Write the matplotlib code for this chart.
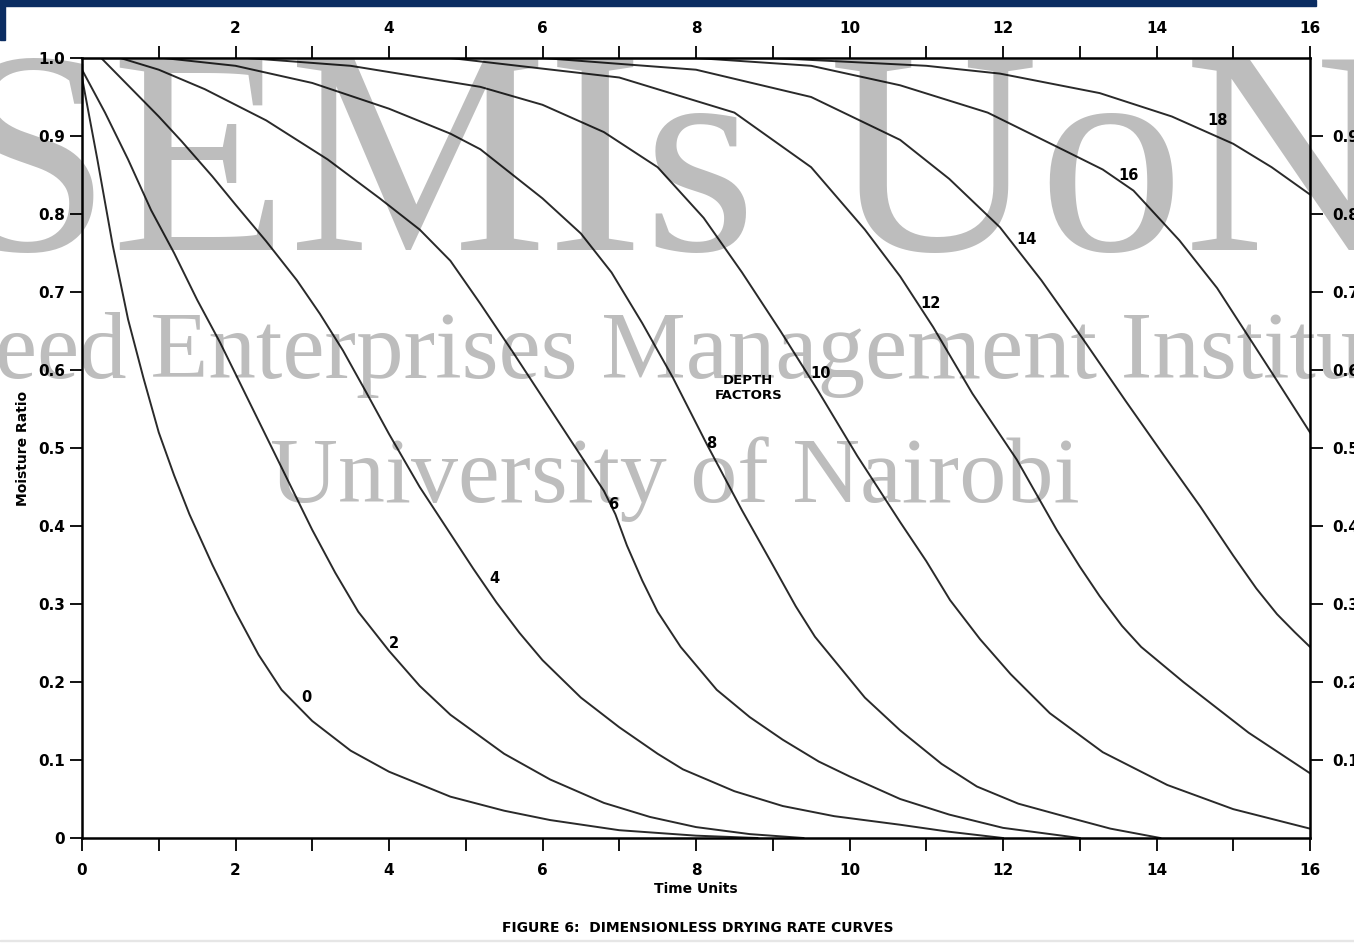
import matplotlib.pyplot as plt
from matplotlib.patches import Rectangle

plt.rcParams['font.family'] = ['DejaVu Sans']
plt.rcParams['font.weight'] = 'bold'
plt.rcParams['axes.labelweight'] = 'bold'

# moisture ratio vs time units for each depth factor
t_0 = [0, 0.2, 0.4, 0.6, 0.8, 1.0, 1.2, 1.4, 1.7, 2.0, 2.3, 2.6, 3.0, 3.5, 4.0, 4.8, 5.5, 6.1, 7.0, 8.0, 8.8]
mr_0 = [0.975, 0.87, 0.76, 0.665, 0.59, 0.52, 0.465, 0.415, 0.35, 0.29, 0.235, 0.19, 0.15, 0.112, 0.085,
        0.053, 0.035, 0.023, 0.01, 0.003, 0.0]

t_2 = [0, 0.3, 0.6, 0.9, 1.2, 1.5, 1.8, 2.1, 2.4, 2.7, 3.0, 3.3, 3.6, 4.0, 4.4, 4.8, 5.5, 6.1, 6.8, 7.4,
       8.0, 8.7, 9.4]
mr_2 = [0.985, 0.93, 0.87, 0.805, 0.75, 0.69, 0.635, 0.575, 0.515, 0.455, 0.395, 0.34, 0.29, 0.24, 0.195,
        0.158, 0.108, 0.075, 0.045, 0.027, 0.014, 0.005, 0.0]

t_4 = [0.25, 0.6, 1.0, 1.3, 1.7, 2.0, 2.4, 2.8, 3.1, 3.4, 3.7, 4.0, 4.4, 4.8, 5.1, 5.4, 5.7, 6.0, 6.5,
       7.0, 7.5, 7.83, 8.5, 9.13, 9.8, 10.66, 11.3, 12.0]
mr_4 = [1.0, 0.965, 0.925, 0.893, 0.848, 0.812, 0.765, 0.715, 0.672, 0.625, 0.572, 0.518, 0.45, 0.39,
        0.345, 0.302, 0.263, 0.228, 0.18, 0.142, 0.108, 0.088, 0.06, 0.041, 0.028, 0.017, 0.008, 0.0]

t_6 = [0.5, 1.0, 1.6, 2.4, 3.2, 3.88, 4.4, 4.8, 5.19, 5.6, 6.0, 6.4, 6.8, 6.95, 7.1, 7.3, 7.5, 7.8, 8.27,
       8.7, 9.13, 9.6, 10.0, 10.66, 11.3, 12.0, 13.0]
mr_6 = [1.0, 0.985, 0.96, 0.92, 0.87, 0.82, 0.78, 0.74, 0.685, 0.625, 0.565, 0.505, 0.445, 0.415, 0.375,
        0.33, 0.29, 0.245, 0.19, 0.155, 0.126, 0.098, 0.079, 0.05, 0.03, 0.013, 0.0]

t_8 = [1.06, 2.0, 3.0, 4.0, 4.8, 5.19, 6.0, 6.5, 6.9, 7.3, 7.7, 8.14, 8.6, 9.0, 9.3, 9.55, 9.8, 10.2,
       10.66, 11.2, 11.66, 12.2, 12.83, 13.4, 14.05]
mr_8 = [1.0, 0.99, 0.968, 0.935, 0.903, 0.883, 0.82, 0.775, 0.725, 0.66, 0.59, 0.505, 0.42, 0.35, 0.297,
        0.258, 0.228, 0.18, 0.138, 0.095, 0.066, 0.044, 0.027, 0.012, 0.0]

t_10 = [2.15, 3.5, 5.19, 6.0, 6.8, 7.5, 8.1, 8.6, 9.1, 9.58, 10.1, 10.66, 11.0, 11.31, 11.7, 12.1, 12.61,
        13.3, 14.14, 15.0, 16.0]
mr_10 = [1.0, 0.99, 0.963, 0.94, 0.905, 0.86, 0.795, 0.725, 0.65, 0.575, 0.49, 0.405, 0.355, 0.305, 0.255,
         0.21, 0.16, 0.11, 0.068, 0.037, 0.012]

t_12 = [4.8, 7.0, 8.5, 9.5, 10.2, 10.66, 11.09, 11.6, 12.18, 12.7, 13.0, 13.26, 13.55, 13.8, 14.35, 15.2, 16.0]
mr_12 = [1.0, 0.975, 0.93, 0.86, 0.78, 0.72, 0.655, 0.57, 0.485, 0.395, 0.348, 0.31, 0.272, 0.245, 0.2,
         0.135, 0.083]

t_14 = [6.0, 8.0, 9.5, 10.66, 11.3, 11.96, 12.5, 13.04, 13.6, 14.1, 14.57, 15.0, 15.3, 15.57, 15.8, 16.0]
mr_14 = [1.0, 0.985, 0.95, 0.895, 0.845, 0.783, 0.715, 0.64, 0.56, 0.49, 0.425, 0.362, 0.32, 0.287, 0.264,
         0.245]

t_16 = [8.0, 9.5, 10.66, 11.8, 12.83, 13.3, 13.7, 14.3, 14.79, 15.0, 15.5, 16.0]
mr_16 = [1.0, 0.99, 0.965, 0.93, 0.88, 0.857, 0.83, 0.766, 0.705, 0.673, 0.597, 0.52]

t_18 = [9.0, 11.0, 11.96, 13.26, 14.2, 15.0, 15.5, 16.0]
mr_18 = [1.0, 0.99, 0.98, 0.955, 0.925, 0.89, 0.86, 0.825]

depth_labels = ['0', '2', '4', '6', '8', '10', '12', '14', '16', '18']
label_t = [2.92, 4.07, 5.37, 6.92, 8.2, 9.62, 11.06, 12.31, 13.63, 14.79]
label_mr = [0.18, 0.25, 0.333, 0.427, 0.506, 0.596, 0.685, 0.767, 0.85, 0.92]

curves = [(t_0, mr_0), (t_2, mr_2), (t_4, mr_4), (t_6, mr_6), (t_8, mr_8),
          (t_10, mr_10), (t_12, mr_12), (t_14, mr_14), (t_16, mr_16), (t_18, mr_18)]

fig = plt.figure(figsize=(13.54, 9.43), dpi=100)
ax = fig.add_axes([82 / 1354, 1 - 838 / 943, 1228 / 1354, 780 / 943])

for t, mr in curves:
    ax.plot(t, mr, color='#2a2a2a', lw=1.4, solid_joinstyle='round')
for lab, x, y in zip(depth_labels, label_t, label_mr):
    ax.text(x, y, lab, fontsize=10.5, ha='center', va='center')

ax.text(8.68, 0.577, 'DEPTH\nFACTORS', fontsize=9.5, ha='center', va='center', linespacing=1.15)

ax.set_xlim(0, 16)
ax.set_ylim(0, 1)
ax.set_xticks(range(0, 17, 2))
ax.set_xticks(range(1, 16, 2), minor=True)
ax.set_yticks([i / 10 for i in range(11)])
ax.set_yticklabels(['0'] + ['0.%d' % i for i in range(1, 10)] + ['1.0'])
ax.tick_params(axis='x', which='both', direction='out', length=9, width=1.3, pad=9, labelsize=11)
ax.tick_params(axis='y', direction='out', length=9, width=1.3, pad=3, labelsize=11)
for sp in ax.spines.values():
    sp.set_linewidth(1.8)

top = ax.secondary_xaxis('top')
top.set_xticks(range(2, 17, 2))
top.set_xticks(range(1, 16, 2), minor=True)
top.tick_params(which='both', direction='out', length=9, width=1.3, pad=7, labelsize=11)
right = ax.secondary_yaxis('right')
right.set_yticks([i / 10 for i in range(1, 10)])
right.set_yticklabels(['0.%d' % i for i in range(1, 10)])
right.tick_params(direction='out', length=9, width=1.3, pad=7, labelsize=11)

ax.set_xlabel('Time Units', fontsize=10, labelpad=3)
ax.set_ylabel('Moisture Ratio', fontsize=10, labelpad=6)
fig.text(698 / 1354, 1 - 928 / 943, 'FIGURE 6:  DIMENSIONLESS DRYING RATE CURVES',
         fontsize=10, ha='center', va='center')

# page decorations of the scan
fig.add_artist(Rectangle((0, 1 - 6 / 943), 1316 / 1354, 6 / 943, transform=fig.transFigure,
                         color='#0b2d62', zorder=5))
fig.add_artist(Rectangle((0, 1 - 40 / 943), 5 / 1354, 40 / 943, transform=fig.transFigure,
                         color='#0b2d62', zorder=5))
fig.add_artist(Rectangle((0, 1 - 941 / 943), 1, 1 / 943, transform=fig.transFigure,
                         color='#e6e6e6', zorder=5))

# watermark over the scan
wm = dict(family='Liberation Serif', weight='normal', color='black', alpha=0.26,
          ha='left', va='baseline', zorder=10)
fig.text(-50 / 1354, 1 - 250 / 943, 'SEMIs UoN', fontsize=209, **wm)
fig.text(-58 / 1354, 1 - 378 / 943, 'Seed Enterprises Management Institute', fontsize=68.4, **wm)
fig.text(270 / 1354, 1 - 502 / 943, 'University of Nairobi', fontsize=67.7, **wm)

fig.savefig('out.png', dpi=100)
